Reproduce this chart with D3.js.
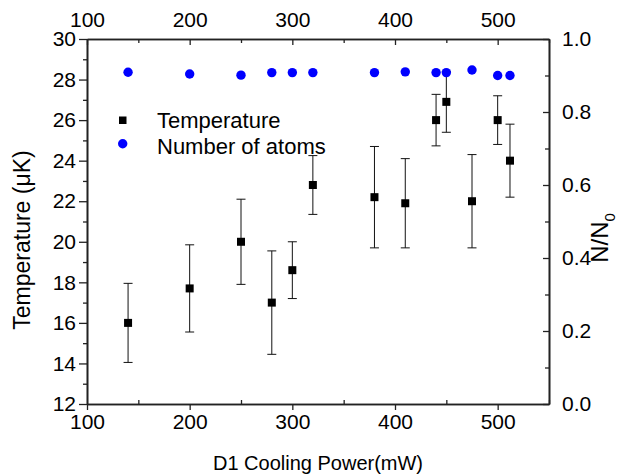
<!DOCTYPE html>
<html>
<head>
<meta charset="utf-8">
<script src="https://cdn.jsdelivr.net/npm/d3@7"></script>
<style>
  body { margin: 0; background: #fff; }
  svg text { font-family: "Liberation Sans", Arial, sans-serif; fill: #000; }
</style>
</head>
<body>
<div class="visual"></div>
<script>
const width = 631;
const height = 475;

// data
const power = [140, 200, 250, 280, 300, 320, 380, 410, 440, 450, 475, 500, 512];
const temperature = [16.0, 17.7, 20.0, 17.0, 18.6, 22.8, 22.2, 21.9, 26.0, 26.9, 22.0, 26.0, 24.0];
const tempError = [1.95, 2.15, 2.1, 2.55, 1.4, 1.45, 2.5, 2.2, 1.27, 1.5, 2.3, 1.2, 1.8];
const atomFraction = [0.909, 0.904, 0.901, 0.908, 0.908, 0.908, 0.908, 0.910, 0.908, 0.908, 0.915, 0.900, 0.900];
const xTicks = [100, 200, 300, 400, 500];
const tempTicks = [12, 14, 16, 18, 20, 22, 24, 26, 28, 30];
const fracTicks = [0, 0.2, 0.4, 0.6, 0.8, 1.0];

const margin = { top: 39, right: 82, bottom: 71, left: 87 };

const svg = d3
  .select(".visual")
  .append("svg")
  .attr("width", width)
  .attr("height", height);

const x = d3.scaleLinear().domain([100, 550]).range([margin.left, width - margin.right]);
const yT = d3.scaleLinear().domain([12, 30]).range([height - margin.bottom, margin.top]);
const yN = d3.scaleLinear().domain([0, 1]).range([height - margin.bottom, margin.top]);

const x0 = margin.left, x1 = width - margin.right;
const y0 = height - margin.bottom, y1 = margin.top;

// axes: major + minor ticks
function styleAxis(g) {
  g.select(".domain").attr("stroke", "#222").attr("stroke-width", 1.6);
  g.selectAll(".tick line").attr("stroke", "#222").attr("stroke-width", 1.3);
  g.selectAll(".tick text").attr("font-size", 21).attr("font-family", "Liberation Sans, Arial, sans-serif");
}

// bottom
svg.append("g")
  .attr("transform", `translate(0,${y0})`)
  .call(d3.axisBottom(x).tickValues(d3.range(150, 551, 100)).tickSize(-4).tickFormat("").tickSizeOuter(0))
  .call(styleAxis);
svg.append("g")
  .attr("transform", `translate(0,${y0})`)
  .call(d3.axisBottom(x).tickValues(xTicks).tickSize(6).tickPadding(4).tickFormat(d3.format("d")).tickSizeOuter(0))
  .call(styleAxis);

// top
svg.append("g")
  .attr("transform", `translate(0,${y1})`)
  .call(d3.axisTop(x).tickValues(d3.range(150, 551, 100)).tickSize(-4).tickFormat("").tickSizeOuter(0))
  .call(styleAxis);
svg.append("g")
  .attr("transform", `translate(0,${y1})`)
  .call(d3.axisTop(x).tickValues(xTicks).tickSize(-6).tickPadding(12).tickFormat(d3.format("d")).tickSizeOuter(0))
  .call(styleAxis);

// left
svg.append("g")
  .attr("transform", `translate(${x0},0)`)
  .call(d3.axisLeft(yT).tickValues(d3.range(13, 30, 2)).tickSize(4).tickFormat("").tickSizeOuter(0))
  .call(styleAxis);
svg.append("g")
  .attr("transform", `translate(${x0},0)`)
  .call(d3.axisLeft(yT).tickValues(tempTicks).tickSize(8).tickPadding(3).tickFormat(d3.format("d")).tickSizeOuter(0))
  .call(styleAxis);

// right
svg.append("g")
  .attr("transform", `translate(${x1},0)`)
  .call(d3.axisRight(yN).tickValues(d3.range(0.1, 1, 0.2)).tickSize(-4).tickFormat("").tickSizeOuter(0))
  .call(styleAxis);
svg.append("g")
  .attr("transform", `translate(${x1},0)`)
  .call(d3.axisRight(yN).tickValues(fracTicks).tickSize(-6).tickPadding(13).tickFormat(d3.format(".1f")).tickSizeOuter(0))
  .call(styleAxis);

// error bars
const errs = svg.append("g").attr("stroke", "#111").attr("stroke-width", 1);
power.forEach((p, i) => {
  const lo = yT(temperature[i] - tempError[i]);
  const hi = yT(temperature[i] + tempError[i]);
  const cx = x(p);
  errs.append("line").attr("x1", cx).attr("x2", cx).attr("y1", lo).attr("y2", hi);
  errs.append("line").attr("x1", cx - 4.5).attr("x2", cx + 4.5).attr("y1", lo).attr("y2", lo);
  errs.append("line").attr("x1", cx - 4.5).attr("x2", cx + 4.5).attr("y1", hi).attr("y2", hi);
});

// temperature squares
svg.selectAll(".sq")
  .data(power)
  .enter()
  .append("rect")
  .attr("x", (d) => x(d) - 4)
  .attr("y", (d, i) => yT(temperature[i]) - 4)
  .attr("width", 8)
  .attr("height", 8)
  .attr("fill", "#000");

// atom fraction dots
svg.selectAll(".dot")
  .data(power)
  .enter()
  .append("circle")
  .attr("cx", (d) => x(d))
  .attr("cy", (d, i) => yN(atomFraction[i]))
  .attr("r", 4.7)
  .attr("fill", "#0000ff");

// legend
svg.append("rect").attr("x", 119).attr("y", 116.5).attr("width", 7.5).attr("height", 7.5).attr("fill", "#000");
svg.append("text").attr("x", 157).attr("y", 128).attr("font-size", 22).text("Temperature");
svg.append("circle").attr("cx", 122.7).attr("cy", 143.8).attr("r", 4.7).attr("fill", "#0000ff");
svg.append("text").attr("x", 157).attr("y", 153.5).attr("font-size", 22).text("Number of atoms");

// axis titles
svg.append("text")
  .attr("transform", "translate(30,240) rotate(-90)")
  .attr("text-anchor", "middle")
  .attr("font-size", 23)
  .text("Temperature (\u03bcK)");

const rt = svg.append("text")
  .attr("transform", "translate(608,238) rotate(-90)")
  .attr("text-anchor", "middle")
  .attr("font-size", 24);
rt.append("tspan").text("N/N");
rt.append("tspan").attr("font-size", 15).attr("dy", 7).text("0");

svg.append("text")
  .attr("x", 318)
  .attr("y", 470)
  .attr("text-anchor", "middle")
  .attr("font-size", 20)
  .text("D1 Cooling Power(mW)");
</script>
</body>
</html>
